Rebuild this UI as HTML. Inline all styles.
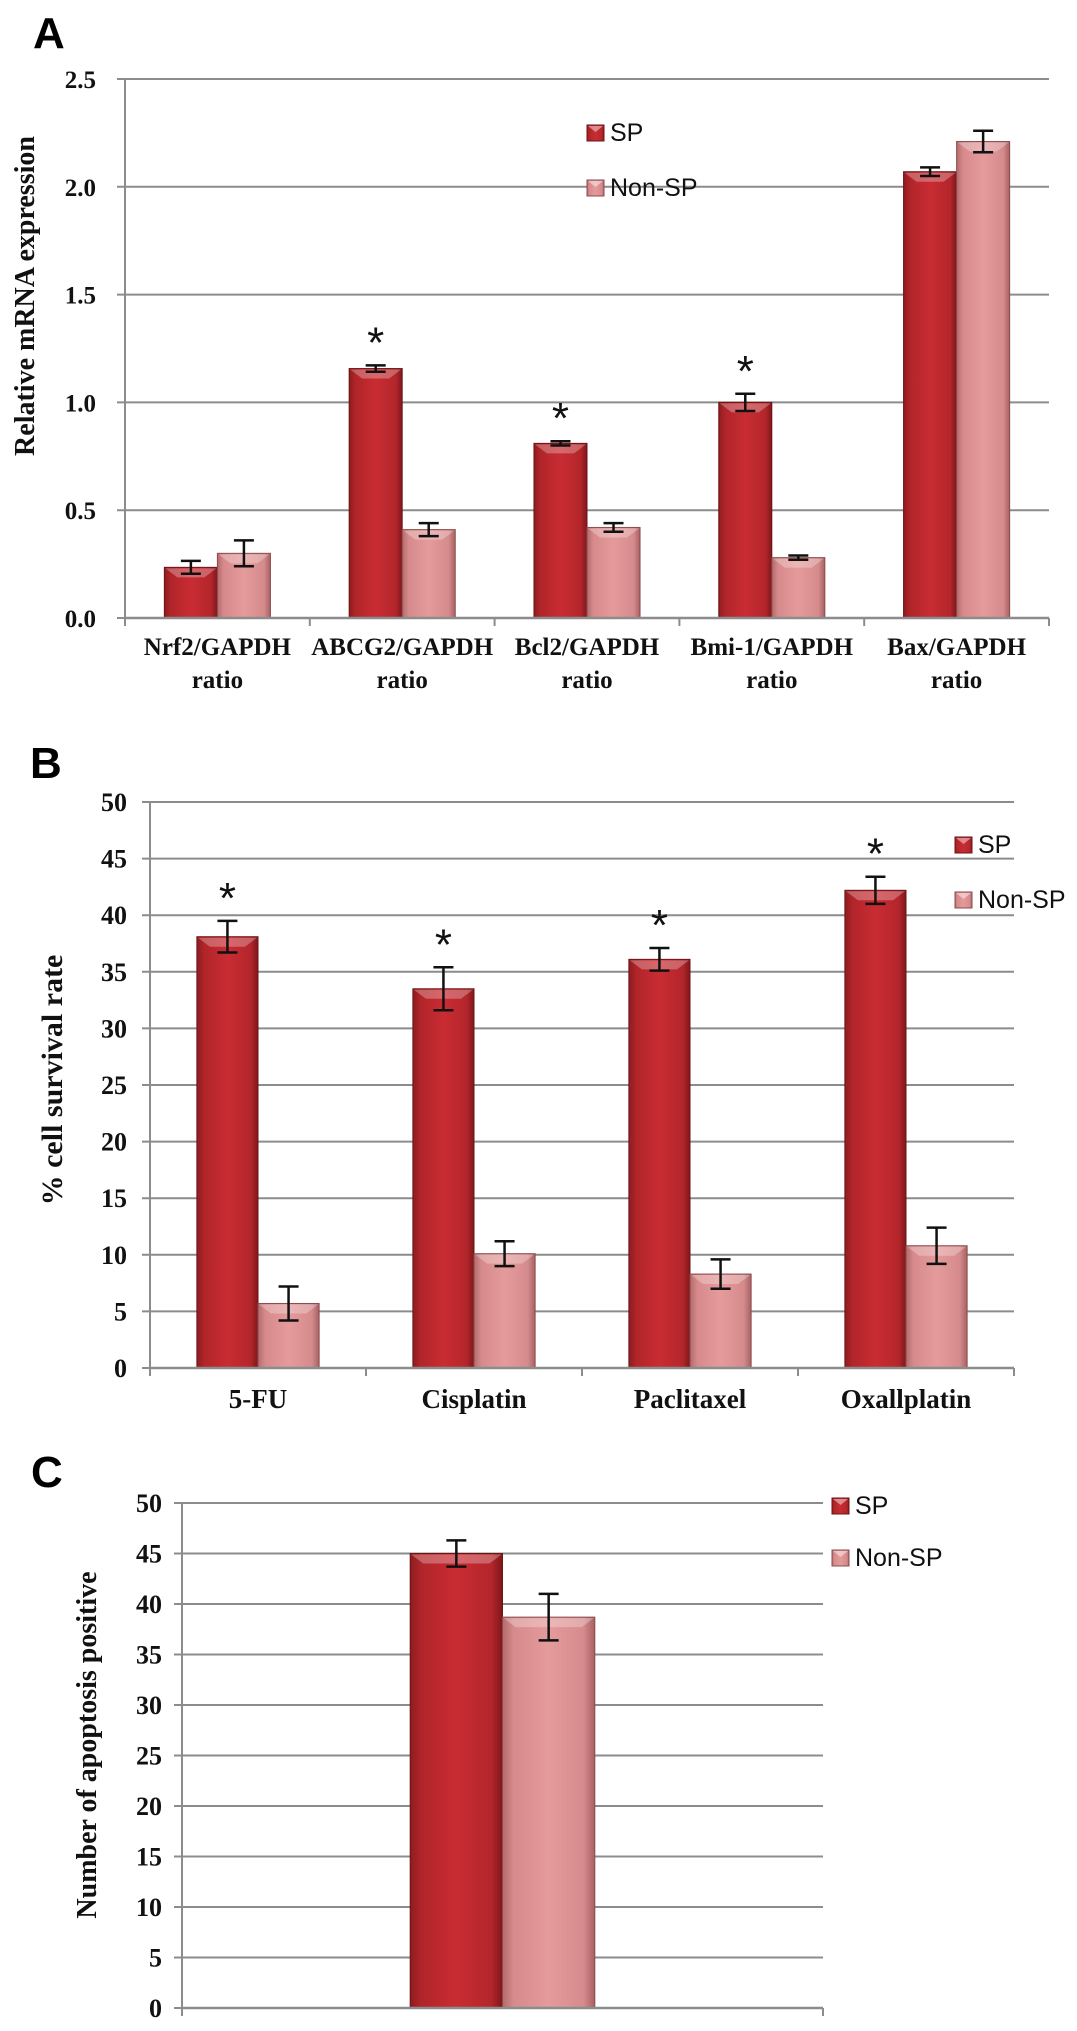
<!DOCTYPE html>
<html><head><meta charset="utf-8"><style>
html,body{margin:0;padding:0;background:#fff;}
svg{display:block;}
</style></head><body>
<svg id="fig" width="1077" height="2031" viewBox="0 0 1077 2031" xmlns="http://www.w3.org/2000/svg">
<defs>
<linearGradient id="gSP" x1="0" x2="1" y1="0" y2="0"><stop offset="0" stop-color="#8e1c20"/><stop offset="0.12" stop-color="#b02529"/><stop offset="0.5" stop-color="#c92c33"/><stop offset="0.88" stop-color="#b3262b"/><stop offset="1" stop-color="#7e171b"/></linearGradient>
<linearGradient id="gNS" x1="0" x2="1" y1="0" y2="0"><stop offset="0" stop-color="#b46a6b"/><stop offset="0.12" stop-color="#d68a8b"/><stop offset="0.5" stop-color="#e59a9b"/><stop offset="0.88" stop-color="#d58b8c"/><stop offset="1" stop-color="#a86062"/></linearGradient>
</defs>
</svg>
<script>
// ---------- Panel A data ----------
const catsA = [["Nrf2/GAPDH","ratio"],["ABCG2/GAPDH","ratio"],["Bcl2/GAPDH","ratio"],["Bmi-1/GAPDH","ratio"],["Bax/GAPDH","ratio"]];
const spA = [0.235, 1.157, 0.81, 1.0, 2.07];
const spErrA = [0.03, 0.015, 0.01, 0.04, 0.02];
const nsA = [0.30, 0.41, 0.42, 0.28, 2.21];
const nsErrA = [0.06, 0.03, 0.02, 0.01, 0.05];
const starA = [false, true, true, true, false];
const ticksA = ["0.0","0.5","1.0","1.5","2.0","2.5"];
// ---------- Panel B data ----------
const catsB = [["5-FU"],["Cisplatin"],["Paclitaxel"],["Oxallplatin"]];
const spB = [38.1, 33.5, 36.1, 42.2];
const spErrB = [1.4, 1.9, 1.0, 1.2];
const nsB = [5.7, 10.1, 8.3, 10.8];
const nsErrB = [1.5, 1.1, 1.3, 1.6];
const starB = [true, true, true, true];
const ticksB = ["0","5","10","15","20","25","30","35","40","45","50"];
// ---------- Panel C data ----------
const catsC = [[""]];
const spC = [45.0];
const spErrC = [1.3];
const nsC = [38.7];
const nsErrC = [2.3];
const starC = [false];
const ticksC = ["0","5","10","15","20","25","30","35","40","45","50"];

const svg = document.getElementById('fig');
const NS = 'http://www.w3.org/2000/svg';
function mk(tag, attrs, parent){const e=document.createElementNS(NS,tag);for(const k in attrs)e.setAttribute(k,attrs[k]);(parent||svg).appendChild(e);return e;}

function panel(cfg){
  const g = mk('g',{});
  
  
  const {x0,x1,y0,y1,max,ticks,cats,sp,spE,ns,nsE,stars,bw} = cfg;
  const ys = v => y0 - (v/max)*(y0-y1);
  const gw = (x1-x0)/cats.length;
  ticks.forEach((t,i)=>{
    const v = max*i/(ticks.length-1);
    const y = ys(v);
    const l = mk('line',{x1:x0-8,x2:x1,y1:y,y2:y,stroke:'#8c8c8c','stroke-width':2},g);
    
    
    const tx = mk('text',{x:cfg.tickX,y:y+9,'text-anchor':'end','font-family':'Liberation Serif, serif','font-weight':'bold','font-size':cfg.tickFont,fill:'#111'},g);
    tx.textContent = t;
    
    
  });
  const ax = mk('line',{x1:x0,x2:x0,y1:y1,y2:y0+7,stroke:'#8c8c8c','stroke-width':2},g);
  
  
  for(let i=0;i<=cats.length;i++){
    const x=x0+i*gw;
    const tk=mk('line',{x1:x,x2:x,y1:y0,y2:y0+8,stroke:'#8c8c8c','stroke-width':2},g);
    
    
  }
  cats.forEach((c,i)=>{
    const cx = x0+(i+0.5)*gw;
    const w = bw*gw;
    [[sp[i],spE[i],'url(#gSP)',cx-w,'#6d1417','sp'],[ns[i],nsE[i],'url(#gNS)',cx,'#8a4c4d','non-sp']].forEach(([v,e,fill,bx,edge,key])=>{
      const top = ys(v);
      const r = mk('rect',{x:bx,y:top,width:w,height:y0-top,fill:fill,stroke:edge,'stroke-width':1},g);
      
      
      const bev = Math.min(10,(y0-top)/2);
      const b = mk('polygon',{points:`${bx+1},${top+1} ${bx+w-1},${top+1} ${bx+w-bev-3},${top+bev} ${bx+bev+3},${top+bev}`,fill:'#ffffff','fill-opacity':0.28},g);
      
      
      const ex = bx+w/2, eh=ys(v+e), el=ys(v-e);
      const eg = mk('g',{stroke:'#111','stroke-width':2.5},g);
      
      
      mk('line',{x1:ex,x2:ex,y1:eh,y2:el},eg);
      mk('line',{x1:ex-10,x2:ex+10,y1:eh,y2:eh},eg);
      mk('line',{x1:ex-10,x2:ex+10,y1:el,y2:el},eg);
    });
    if(stars[i]){
      const st = mk('text',{x:cx-w/2,y:ys(sp[i]+spE[i])-8,'text-anchor':'middle','font-family':'Liberation Sans, sans-serif','font-size':44,fill:'#111'},g);
      st.textContent='*';
      
      
    }
    c.forEach((line,j)=>{
      const t = mk('text',{x:cx,y:cfg.labY+j*33,'text-anchor':'middle','font-family':'Liberation Serif, serif','font-weight':'bold','font-size':cfg.labFont,fill:'#111'},g);
      t.textContent=line;
      
      
    });
  });
  const xa = mk('line',{x1:x0,x2:x1,y1:y0,y2:y0,stroke:'#8c8c8c','stroke-width':2.5},g);
  
  
  const yt = mk('text',{x:0,y:0,transform:`translate(${cfg.ytX},${cfg.ytY}) rotate(-90)`,'text-anchor':'middle','font-family':'Liberation Serif, serif','font-weight':'bold','font-size':cfg.ytFont,fill:'#111'},g);
  yt.textContent=cfg.ytitle;
  
  
  const pl = mk('text',{x:cfg.letX,y:cfg.letY,'font-family':'Liberation Sans, sans-serif','font-weight':'bold','font-size':44,fill:'#000'},g);
  pl.textContent=cfg.letter;
  
  
  [['SP','url(#gSP)',0,'#6d1417'],['Non-SP','url(#gNS)',1,'#8a4c4d']].forEach(([lab,fill,k,edge])=>{
    const lg = mk('g',{},g);
    
    
    const ly = cfg.legY + k*cfg.legGap;
    mk('rect',{x:cfg.legX,y:ly,width:17,height:16,fill:fill,stroke:edge,'stroke-width':1},lg);
    mk('polygon',{points:`${cfg.legX+1},${ly+1} ${cfg.legX+16},${ly+1} ${cfg.legX+8.5},${ly+7}`,fill:'#fff','fill-opacity':0.45},lg);
    const t = mk('text',{x:cfg.legX+23,y:ly+16,'font-family':'Liberation Sans, sans-serif','font-size':25,fill:'#111'},lg);
    t.textContent=lab;
  });
}

panel({name:'panel-a-chart',letter:'A',letX:33,letY:48,x0:125,x1:1049,y0:618,y1:79,max:2.5,ticks:ticksA,cats:catsA,sp:spA,spE:spErrA,ns:nsA,nsE:nsErrA,stars:starA,bw:0.287,tickX:96,tickFont:25,labY:655,labFont:25,ytitle:'Relative mRNA expression',ytX:34,ytY:296,ytFont:28,legX:587,legY:125,legGap:55});
panel({name:'panel-b-chart',letter:'B',letX:30,letY:778,x0:150,x1:1014,y0:1368,y1:802,max:50,ticks:ticksB,cats:catsB,sp:spB,spE:spErrB,ns:nsB,nsE:nsErrB,stars:starB,bw:0.283,tickX:127,tickFont:26,labY:1408,labFont:27,ytitle:'% cell  survival rate',ytX:62,ytY:1080,ytFont:30,legX:955,legY:837,legGap:55});
panel({name:'panel-c-chart',letter:'C',letX:31,letY:1487,x0:182,x1:823,y0:2008,y1:1503,max:50,ticks:ticksC,cats:catsC,sp:spC,spE:spErrC,ns:nsC,nsE:nsErrC,stars:starC,bw:0.144,tickX:162,tickFont:26,labY:2040,labFont:22,ytitle:'Number of apoptosis positive',ytX:96,ytY:1745,ytFont:28,legX:832,legY:1498,legGap:52});
</script>
</body></html>
